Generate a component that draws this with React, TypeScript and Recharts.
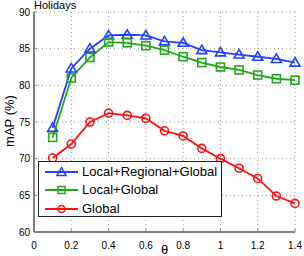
import React from 'react';
import { LineChart, Line, XAxis, YAxis, CartesianGrid, Legend } from 'recharts';

const thetas = [0.1, 0.2, 0.3, 0.4, 0.5, 0.6, 0.7, 0.8, 0.9, 1.0, 1.1, 1.2, 1.3, 1.4];
const localRegionalGlobal = [74.2, 82.3, 85.0, 86.8, 86.9, 86.8, 86.0, 85.8, 84.8, 84.5, 84.2, 83.9, 83.6, 83.1];
const localGlobal = [72.9, 81.0, 83.8, 85.9, 85.8, 85.4, 84.8, 83.9, 83.1, 82.5, 82.1, 81.4, 80.9, 80.7];
const globalOnly = [70.1, 72.0, 75.0, 76.2, 75.9, 75.5, 73.8, 73.1, 71.4, 70.0, 68.7, 67.3, 64.9, 63.9];
const xTicks = [0, 0.2, 0.4, 0.6, 0.8, 1, 1.2, 1.4];
const yTicks = [60, 65, 70, 75, 80, 85, 90];
const seriesNames = ['Local+Regional+Global', 'Local+Global', 'Global'];

const data = thetas.map((t, i) => ({
  theta: t,
  lrg: localRegionalGlobal[i],
  lg: localGlobal[i],
  g: globalOnly[i],
}));

const BLUE = '#2241ff';
const GREEN = '#1fa81a';
const RED = '#ff1010';
const AXIS = '#808080';
const FONT = '"Liberation Sans", Arial, sans-serif';

const Tri = (props: any) => {
  const { cx, cy, stroke, index } = props;
  if (cx == null || cy == null) return <g key={index} />;
  return (
    <polygon
      key={index}
      points={`${cx},${cy - 5} ${cx - 5},${cy + 3.5} ${cx + 5},${cy + 3.5}`}
      fill="none"
      stroke={stroke}
      strokeWidth={1.6}
    />
  );
};
const Sq = (props: any) => {
  const { cx, cy, stroke, index } = props;
  if (cx == null || cy == null) return <g key={index} />;
  return <rect key={index} x={cx - 4} y={cy - 4} width={8} height={8} fill="none" stroke={stroke} strokeWidth={1.6} />;
};
const Circ = (props: any) => {
  const { cx, cy, stroke, index } = props;
  if (cx == null || cy == null) return <g key={index} />;
  return <circle key={index} cx={cx} cy={cy} r={4} fill="none" stroke={stroke} strokeWidth={1.6} />;
};

const legendItems = [
  { name: seriesNames[0], color: BLUE, shape: 'tri' },
  { name: seriesNames[1], color: GREEN, shape: 'sq' },
  { name: seriesNames[2], color: RED, shape: 'circ' },
];

const LegendBox = () => (
  <div
    style={{
      width: 184,
      height: 56,
      border: '1px solid #222',
      background: '#fff',
      boxSizing: 'border-box',
      position: 'relative',
      fontFamily: FONT,
    }}
  >
    {legendItems.map((it, i) => {
      const cy = 10 + i * 18.3;
      return (
        <div key={it.name} style={{ position: 'absolute', left: 0, top: cy - 9, height: 18, width: 184 }}>
          <svg width={42} height={18} style={{ position: 'absolute', left: 0, top: 0 }}>
            <line x1={6} y1={9} x2={39} y2={9} stroke={it.color} strokeWidth={1.8} />
            {it.shape === 'tri' && (
              <polygon points={`22.5,4.5 18,12.5 27,12.5`} fill="none" stroke={it.color} strokeWidth={1.5} />
            )}
            {it.shape === 'sq' && <rect x={19} y={5.5} width={7} height={7} fill="none" stroke={it.color} strokeWidth={1.5} />}
            {it.shape === 'circ' && <circle cx={22.5} cy={9} r={3.5} fill="none" stroke={it.color} strokeWidth={1.5} />}
          </svg>
          <span
            style={{
              position: 'absolute',
              left: 43,
              top: 0,
              lineHeight: '18px',
              fontSize: 13,
              color: '#000',
              whiteSpace: 'nowrap',
            }}
          >
            {it.name}
          </span>
        </div>
      );
    })}
  </div>
);

const YLabel = () => {
  const x = 9;
  const y = 121;
  return (
    <text
      x={x}
      y={y}
      transform={`rotate(-90, ${x}, ${y})`}
      textAnchor="middle"
      dominantBaseline="central"
      fontSize={13}
      fill="#000"
      fontFamily={FONT}
    >
      mAP (%)
    </text>
  );
};

export default function App() {
  const tickStyle = { fontSize: 10, fill: '#000', fontFamily: FONT };
  return (
    <div style={{ position: 'absolute', left: 0, top: 0, width: 304, height: 256, background: '#fff', fontFamily: FONT }}>
      <div style={{ position: 'absolute', left: 34, top: -1, fontSize: 11, color: '#000', fontFamily: FONT }}>Holidays</div>
      <LineChart width={304} height={256} data={data} margin={{ top: 12, right: 9, bottom: 0, left: 0 }}>
        <CartesianGrid stroke="#9a9a9a" strokeDasharray="1 3" strokeWidth={1} />
        <XAxis
          dataKey="theta"
          type="number"
          domain={[0, 1.4]}
          ticks={xTicks}
          height={24}
          axisLine={{ stroke: AXIS, strokeWidth: 2 }}
          tickLine={{ stroke: AXIS }}
          tickSize={-3}
          tickMargin={13}
          tick={tickStyle}
          label={{ value: 'θ', position: 'insideBottom', offset: 2, style: { fontSize: 13, fill: '#000', fontFamily: FONT } }}
        />
        <XAxis
          xAxisId="top"
          orientation="top"
          dataKey="theta"
          type="number"
          domain={[0, 1.4]}
          ticks={xTicks}
          height={0}
          axisLine={{ stroke: AXIS, strokeWidth: 2 }}
          tickLine={{ stroke: AXIS }}
          tickSize={-3}
          tickFormatter={() => ''}
        />
        <YAxis
          type="number"
          domain={[60, 90]}
          ticks={yTicks}
          width={34}
          axisLine={{ stroke: AXIS, strokeWidth: 2 }}
          tickLine={{ stroke: AXIS }}
          tickSize={-3}
          tickMargin={7}
          tick={tickStyle}
          label={{ content: YLabel }}
        />
        <YAxis
          yAxisId="right"
          orientation="right"
          type="number"
          domain={[60, 90]}
          ticks={yTicks}
          width={0}
          axisLine={{ stroke: AXIS, strokeWidth: 2 }}
          tickLine={{ stroke: AXIS }}
          tickSize={-3}
          tickFormatter={() => ''}
        />
        <Legend
          layout="vertical"
          align="center"
          verticalAlign="middle"
          wrapperStyle={{ position: 'absolute', left: 38, top: 161, width: 184, height: 56 }}
          content={() => <LegendBox />}
        />
        <Line dataKey="lrg" name={seriesNames[0]} stroke={BLUE} strokeWidth={1.8} dot={Tri} isAnimationActive={false} />
        <Line dataKey="lg" name={seriesNames[1]} stroke={GREEN} strokeWidth={1.8} dot={Sq} isAnimationActive={false} />
        <Line dataKey="g" name={seriesNames[2]} stroke={RED} strokeWidth={1.8} dot={Circ} isAnimationActive={false} />
      </LineChart>
    </div>
  );
}
